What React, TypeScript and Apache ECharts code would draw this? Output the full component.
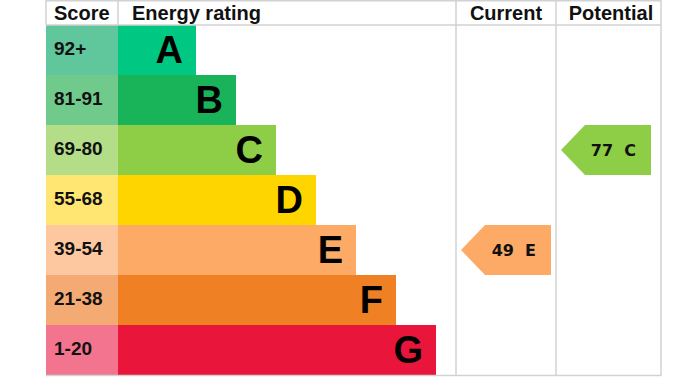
import React, { useEffect, useRef } from "react";
import * as echarts from "echarts";

const bands = ["A", "B", "C", "D", "E", "F", "G"];
const scoreRanges = ["92+", "81-91", "69-80", "55-68", "39-54", "21-38", "1-20"];
const bandMinScores = [92, 81, 69, 55, 39, 21, 1];
const barLengths = [78, 118, 158, 198, 238, 278, 318];
const scoreCellColors = ["#60c69c", "#6fca8b", "#b3dd87", "#ffe571", "#fdc8a0", "#f3aa73", "#f2748e"];
const bandColors = ["#00c781", "#19b459", "#8dce46", "#ffd500", "#fcaa65", "#ef8023", "#e9153b"];
const columnHeaders = ["Score", "Energy rating", "Current", "Potential"];
const currentScore = 49;
const potentialScore = 77;

const ARIAL = "Arial, 'Liberation Sans', sans-serif";
const LINE = "#d2d2d2";

function bandIndexOf(score: number): number {
  for (let i = 0; i < bandMinScores.length; i++) {
    if (score >= bandMinScores[i]) return i;
  }
  return bandMinScores.length - 1;
}

function arrowRender(params: any, api: any) {
  const cs = params.coordSys;
  const idx = api.value(1);
  const center = api.coord([0, idx]);
  const h = api.size([0, 1])[1];
  const cy = center[1];
  const top = cy - h / 2;
  const bottom = cy + h / 2;
  const tip = cs.x + 5;
  const right = cs.x + 95;
  const body = tip + 24;
  const score = api.value(0);
  return {
    type: "group",
    children: [
      {
        type: "polygon",
        shape: {
          points: [
            [tip, cy],
            [body, top],
            [right, top],
            [right, bottom],
            [body, bottom],
          ],
        },
        style: { fill: bandColors[idx] },
      },
      {
        type: "text",
        x: right - 15,
        y: cy,
        style: {
          text: score + "  " + bands[idx],
          fill: "#111",
          fontSize: 16,
          fontWeight: "bold",
          fontFamily: "'DejaVu Sans', Verdana, sans-serif",
          align: "right",
          verticalAlign: "middle",
        },
      },
    ],
  };
}

function vline(x: number, y1: number, y2: number) {
  return {
    type: "line",
    shape: { x1: x, y1, x2: x, y2 },
    style: { stroke: LINE, lineWidth: 1.5 },
    z: 10,
  };
}
function hline(y: number, x1: number, x2: number) {
  return {
    type: "line",
    shape: { x1, y1: y, x2, y2: y },
    style: { stroke: LINE, lineWidth: 1.5 },
    z: 10,
  };
}

function headerText(text: string, x: number, align: string) {
  return {
    type: "text",
    x,
    y: 13,
    style: {
      text,
      fill: "#111",
      fontSize: 20,
      fontWeight: "bold",
      fontFamily: ARIAL,
      align,
      verticalAlign: "middle",
      textAlign: align,
      textVerticalAlign: "middle",
    },
    z: 11,
  };
}

export default function App() {
  const ref = useRef<HTMLDivElement>(null);

  useEffect(() => {
    if (!ref.current) return;
    const chart = echarts.init(ref.current, undefined, { renderer: "svg" });
    const catAxis = (gridIndex: number) => ({
      type: "category",
      gridIndex,
      data: bands,
      inverse: true,
      show: false,
    });
    const option: any = {
      animation: false,
      backgroundColor: "#ffffff",
      grid: [
        { left: 46, top: 25, width: 72, height: 350 },
        { left: 118, top: 25, width: 338, height: 350 },
        { left: 456, top: 25, width: 100, height: 350 },
        { left: 556, top: 25, width: 105, height: 350 },
      ],
      xAxis: [
        { type: "value", gridIndex: 0, min: 0, max: 1, show: false },
        { type: "value", gridIndex: 1, min: 0, max: 338, show: false },
        { type: "value", gridIndex: 2, min: 0, max: 100, show: false },
        { type: "value", gridIndex: 3, min: 0, max: 100, show: false },
      ],
      yAxis: [catAxis(0), catAxis(1), catAxis(2), catAxis(3)],
      series: [
        {
          type: "bar",
          xAxisIndex: 0,
          yAxisIndex: 0,
          barWidth: "100%",
          barCategoryGap: "0%",
          data: scoreRanges.map((r, i) => ({
            value: 1,
            name: r,
            itemStyle: { color: scoreCellColors[i] },
          })),
          label: {
            show: true,
            position: "insideLeft",
            distance: 8,
            offset: [0, -2],
            formatter: (p: any) => scoreRanges[p.dataIndex],
            color: "#111",
            fontSize: 19,
            fontWeight: "bold",
            fontFamily: ARIAL,
          },
          silent: true,
        },
        {
          type: "bar",
          xAxisIndex: 1,
          yAxisIndex: 1,
          barWidth: "100%",
          barCategoryGap: "0%",
          data: barLengths.map((v, i) => ({
            value: v,
            itemStyle: { color: bandColors[i] },
          })),
          label: {
            show: true,
            position: "insideRight",
            distance: 13,
            formatter: (p: any) => bands[p.dataIndex],
            color: "#000",
            fontSize: 38,
            fontWeight: "bold",
            fontFamily: ARIAL,
          },
          silent: true,
        },
        {
          type: "custom",
          xAxisIndex: 2,
          yAxisIndex: 2,
          renderItem: arrowRender,
          data: [[currentScore, bandIndexOf(currentScore)]],
          silent: true,
        },
        {
          type: "custom",
          xAxisIndex: 3,
          yAxisIndex: 3,
          renderItem: arrowRender,
          data: [[potentialScore, bandIndexOf(potentialScore)]],
          silent: true,
        },
      ],
      graphic: [
        hline(0.75, 46, 661),
        hline(25, 46, 661),
        hline(375.5, 46, 661),
        vline(46, 0, 25),
        vline(118, 0, 25),
        vline(456, 0, 376),
        vline(556, 0, 376),
        vline(661, 0, 376),
        headerText(columnHeaders[0], 54, "left"),
        headerText(columnHeaders[1], 132, "left"),
        headerText(columnHeaders[2], 506, "center"),
        headerText(columnHeaders[3], 611, "center"),
      ],
    };
    chart.setOption(option);
    return () => chart.dispose();
  }, []);

  return (
    <div
      ref={ref}
      style={{ position: "fixed", left: 0, top: 0, width: 684, height: 380, background: "#fff" }}
    />
  );
}
